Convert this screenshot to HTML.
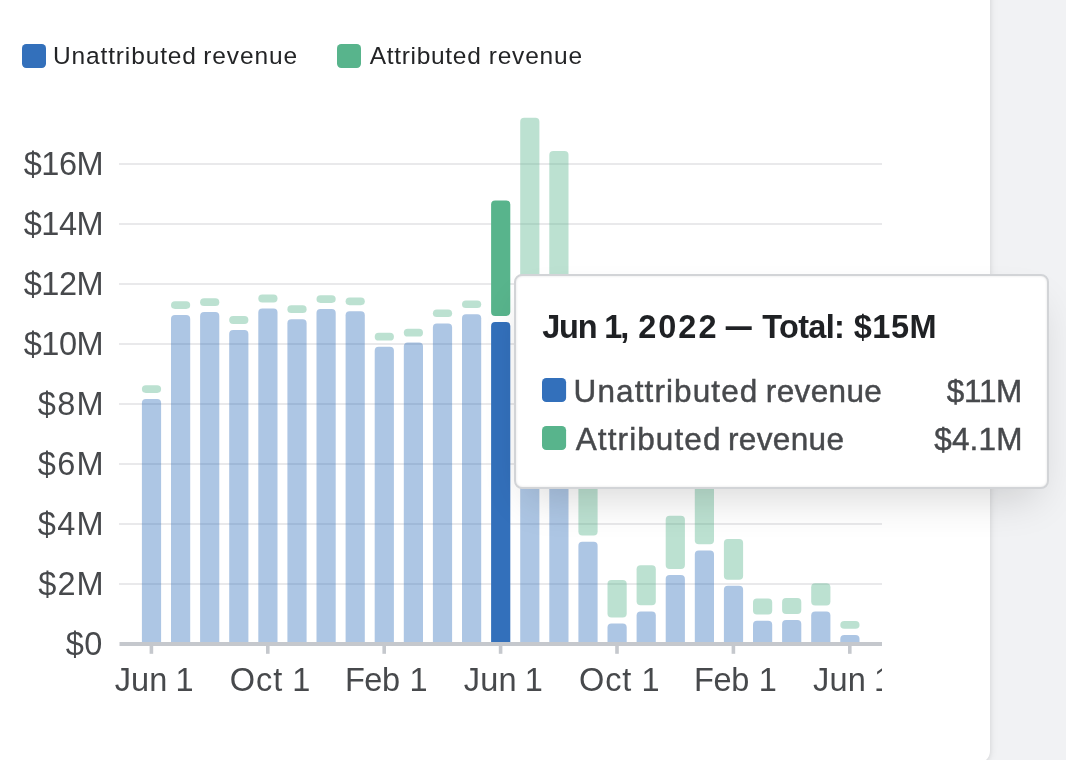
<!DOCTYPE html>
<html><head><meta charset="utf-8"><title>Revenue chart</title>
<style>
html,body{margin:0;padding:0;}
body{width:1066px;height:760px;overflow:hidden;background:#f1f2f4;position:relative;font-family:"Liberation Sans",sans-serif;}
.card{position:absolute;left:-40px;top:-40px;width:1030px;height:803px;background:#fff;border-radius:12px;box-shadow:0 0 8px rgba(0,0,0,.1),0 2px 4px rgba(0,0,0,.05);}
svg{position:absolute;left:0;top:0;font-family:"Liberation Sans",sans-serif;will-change:transform;}
.yl{font-size:32.5px;fill:#47494c;}
.xl{font-size:32.5px;fill:#47494c;}
.lg{font-size:24.5px;fill:#232426;}
.tip{position:absolute;box-sizing:border-box;left:514px;top:274px;width:535px;height:215px;background:#fff;border:2px solid #d2d4d7;border-radius:8px;box-shadow:inset 0 0 2.5px rgba(0,0,0,.12),0 20px 40px -12px rgba(0,0,0,.16);}
.tt{font-size:32.5px;font-weight:700;fill:#1f2124;}
.tr{font-size:31.5px;fill:#47494c;stroke:#47494c;stroke-width:0.45px;}
</style></head><body>
<div class="card"></div>
<svg class="chart" width="1066" height="760" viewBox="0 0 1066 760">
<rect x="119" y="583" width="763" height="2" fill="#e9e9eb"/>
<rect x="119" y="523" width="763" height="2" fill="#e9e9eb"/>
<rect x="119" y="463" width="763" height="2" fill="#e9e9eb"/>
<rect x="119" y="403" width="763" height="2" fill="#e9e9eb"/>
<rect x="119" y="343" width="763" height="2" fill="#e9e9eb"/>
<rect x="119" y="283" width="763" height="2" fill="#e9e9eb"/>
<rect x="119" y="223" width="763" height="2" fill="#e9e9eb"/>
<rect x="119" y="163" width="763" height="2" fill="#e9e9eb"/>
<g opacity="0.4"><path d="M141.90 644.00V403.00a4 4 0 0 1 4 -4h11.20a4 4 0 0 1 4 4V644.00z" fill="#3370bb"/><rect x="141.90" y="385.20" width="19.2" height="7.70" rx="4" ry="4" fill="#58b48c"/></g>
<g opacity="0.4"><path d="M171.00 644.00V319.10a4 4 0 0 1 4 -4h11.20a4 4 0 0 1 4 4V644.00z" fill="#3370bb"/><rect x="171.00" y="301.20" width="19.2" height="7.70" rx="4" ry="4" fill="#58b48c"/></g>
<g opacity="0.4"><path d="M200.10 644.00V316.00a4 4 0 0 1 4 -4h11.20a4 4 0 0 1 4 4V644.00z" fill="#3370bb"/><rect x="200.10" y="298.30" width="19.2" height="7.70" rx="4" ry="4" fill="#58b48c"/></g>
<g opacity="0.4"><path d="M229.20 644.00V334.00a4 4 0 0 1 4 -4h11.20a4 4 0 0 1 4 4V644.00z" fill="#3370bb"/><rect x="229.20" y="316.10" width="19.2" height="7.90" rx="4" ry="4" fill="#58b48c"/></g>
<g opacity="0.4"><path d="M258.30 644.00V312.40a4 4 0 0 1 4 -4h11.20a4 4 0 0 1 4 4V644.00z" fill="#3370bb"/><rect x="258.30" y="294.60" width="19.2" height="7.80" rx="4" ry="4" fill="#58b48c"/></g>
<g opacity="0.4"><path d="M287.40 644.00V323.20a4 4 0 0 1 4 -4h11.20a4 4 0 0 1 4 4V644.00z" fill="#3370bb"/><rect x="287.40" y="305.30" width="19.2" height="7.70" rx="4" ry="4" fill="#58b48c"/></g>
<g opacity="0.4"><path d="M316.50 644.00V313.10a4 4 0 0 1 4 -4h11.20a4 4 0 0 1 4 4V644.00z" fill="#3370bb"/><rect x="316.50" y="295.20" width="19.2" height="7.70" rx="4" ry="4" fill="#58b48c"/></g>
<g opacity="0.4"><path d="M345.60 644.00V315.30a4 4 0 0 1 4 -4h11.20a4 4 0 0 1 4 4V644.00z" fill="#3370bb"/><rect x="345.60" y="297.50" width="19.2" height="7.70" rx="4" ry="4" fill="#58b48c"/></g>
<g opacity="0.4"><path d="M374.70 644.00V350.80a4 4 0 0 1 4 -4h11.20a4 4 0 0 1 4 4V644.00z" fill="#3370bb"/><rect x="374.70" y="332.80" width="19.2" height="7.80" rx="4" ry="4" fill="#58b48c"/></g>
<g opacity="0.4"><path d="M403.80 644.00V346.60a4 4 0 0 1 4 -4h11.20a4 4 0 0 1 4 4V644.00z" fill="#3370bb"/><rect x="403.80" y="328.80" width="19.2" height="7.80" rx="4" ry="4" fill="#58b48c"/></g>
<g opacity="0.4"><path d="M432.90 644.00V327.50a4 4 0 0 1 4 -4h11.20a4 4 0 0 1 4 4V644.00z" fill="#3370bb"/><rect x="432.90" y="309.40" width="19.2" height="7.70" rx="4" ry="4" fill="#58b48c"/></g>
<g opacity="0.4"><path d="M462.00 644.00V318.20a4 4 0 0 1 4 -4h11.20a4 4 0 0 1 4 4V644.00z" fill="#3370bb"/><rect x="462.00" y="300.40" width="19.2" height="7.70" rx="4" ry="4" fill="#58b48c"/></g>
<g opacity="1"><path d="M491.10 644.00V326.00a4 4 0 0 1 4 -4h11.20a4 4 0 0 1 4 4V644.00z" fill="#3370bb"/><rect x="491.10" y="200.50" width="19.2" height="115.40" rx="4" ry="4" fill="#58b48c"/></g>
<g opacity="0.4"><path d="M520.20 644.00V344.00a4 4 0 0 1 4 -4h11.20a4 4 0 0 1 4 4V644.00z" fill="#3370bb"/><rect x="520.20" y="117.80" width="19.2" height="216.20" rx="4" ry="4" fill="#58b48c"/></g>
<g opacity="0.4"><path d="M549.30 644.00V354.00a4 4 0 0 1 4 -4h11.20a4 4 0 0 1 4 4V644.00z" fill="#3370bb"/><rect x="549.30" y="151.00" width="19.2" height="193.00" rx="4" ry="4" fill="#58b48c"/></g>
<g opacity="0.4"><path d="M578.40 644.00V545.75a4 4 0 0 1 4 -4h11.20a4 4 0 0 1 4 4V644.00z" fill="#3370bb"/><rect x="578.40" y="480.00" width="19.2" height="55.50" rx="4" ry="4" fill="#58b48c"/></g>
<g opacity="0.4"><path d="M607.50 644.00V627.50a4 4 0 0 1 4 -4h11.20a4 4 0 0 1 4 4V644.00z" fill="#3370bb"/><rect x="607.50" y="580.00" width="19.2" height="37.50" rx="4" ry="4" fill="#58b48c"/></g>
<g opacity="0.4"><path d="M636.60 644.00V615.50a4 4 0 0 1 4 -4h11.20a4 4 0 0 1 4 4V644.00z" fill="#3370bb"/><rect x="636.60" y="565.25" width="19.2" height="40.00" rx="4" ry="4" fill="#58b48c"/></g>
<g opacity="0.4"><path d="M665.70 644.00V579.00a4 4 0 0 1 4 -4h11.20a4 4 0 0 1 4 4V644.00z" fill="#3370bb"/><rect x="665.70" y="515.75" width="19.2" height="53.25" rx="4" ry="4" fill="#58b48c"/></g>
<g opacity="0.4"><path d="M694.80 644.00V554.50a4 4 0 0 1 4 -4h11.20a4 4 0 0 1 4 4V644.00z" fill="#3370bb"/><rect x="694.80" y="470.00" width="19.2" height="74.25" rx="4" ry="4" fill="#58b48c"/></g>
<g opacity="0.4"><path d="M723.90 644.00V589.80a4 4 0 0 1 4 -4h11.20a4 4 0 0 1 4 4V644.00z" fill="#3370bb"/><rect x="723.90" y="538.90" width="19.2" height="40.80" rx="4" ry="4" fill="#58b48c"/></g>
<g opacity="0.4"><path d="M753.00 644.00V624.80a4 4 0 0 1 4 -4h11.20a4 4 0 0 1 4 4V644.00z" fill="#3370bb"/><rect x="753.00" y="598.50" width="19.2" height="16.10" rx="4" ry="4" fill="#58b48c"/></g>
<g opacity="0.4"><path d="M782.10 644.00V624.00a4 4 0 0 1 4 -4h11.20a4 4 0 0 1 4 4V644.00z" fill="#3370bb"/><rect x="782.10" y="597.90" width="19.2" height="16.00" rx="4" ry="4" fill="#58b48c"/></g>
<g opacity="0.4"><path d="M811.20 644.00V615.60a4 4 0 0 1 4 -4h11.20a4 4 0 0 1 4 4V644.00z" fill="#3370bb"/><rect x="811.20" y="583.20" width="19.2" height="22.30" rx="4" ry="4" fill="#58b48c"/></g>
<g opacity="0.4"><path d="M840.30 644.00V639.00a4 4 0 0 1 4 -4h11.20a4 4 0 0 1 4 4V644.00z" fill="#3370bb"/><rect x="840.30" y="621.05" width="19.2" height="7.65" rx="4" ry="4" fill="#58b48c"/></g>
<rect x="119.5" y="642" width="762.5" height="4" fill="#c5c8cd"/>
<rect x="149.60" y="646" width="3.6" height="7.8" fill="#c5c8cd"/>
<rect x="266.00" y="646" width="3.6" height="7.8" fill="#c5c8cd"/>
<rect x="382.40" y="646" width="3.6" height="7.8" fill="#c5c8cd"/>
<rect x="498.80" y="646" width="3.6" height="7.8" fill="#c5c8cd"/>
<rect x="615.20" y="646" width="3.6" height="7.8" fill="#c5c8cd"/>
<rect x="731.60" y="646" width="3.6" height="7.8" fill="#c5c8cd"/>
<rect x="848.00" y="646" width="3.6" height="7.8" fill="#c5c8cd"/>
<rect x="22" y="44" width="24" height="24" rx="4.2" fill="#3370bb"/>
<rect x="337" y="44" width="24" height="24" rx="4.2" fill="#58b48c"/>
<text class="lg" x="53.01" y="64.30" style="letter-spacing:0.859px">Unattributed</text>
<text class="lg" x="203.25" y="64.30" style="letter-spacing:0.894px">revenue</text>
<text class="lg" x="369.63" y="64.30" style="letter-spacing:0.701px">Attributed</text>
<text class="lg" x="488.65" y="64.30" style="letter-spacing:0.827px">revenue</text>
<text class="yl" x="65.87" y="654.90" style="letter-spacing:0.365px">$0</text>
<text class="yl" x="38.37" y="594.90" style="letter-spacing:0.993px">$2M</text>
<text class="yl" x="37.77" y="534.90" style="letter-spacing:1.293px">$4M</text>
<text class="yl" x="37.77" y="474.90" style="letter-spacing:1.293px">$6M</text>
<text class="yl" x="37.77" y="414.90" style="letter-spacing:1.293px">$8M</text>
<text class="yl" x="23.67" y="354.90" style="letter-spacing:-0.438px">$10M</text>
<text class="yl" x="23.67" y="294.90" style="letter-spacing:-0.438px">$12M</text>
<text class="yl" x="23.67" y="234.90" style="letter-spacing:-0.438px">$14M</text>
<text class="yl" x="23.67" y="174.90" style="letter-spacing:-0.438px">$16M</text>
<clipPath id="cp"><rect x="0" y="650" width="882" height="110"/></clipPath><g clip-path="url(#cp)">
<text class="xl" x="114.63" y="690.90" style="letter-spacing:0.177px">Jun</text>
<text class="xl" x="229.77" y="690.90" style="letter-spacing:0.916px">Oct</text>
<text class="xl" x="344.88" y="690.90" style="letter-spacing:-0.405px">Feb</text>
<text class="xl" x="463.83" y="690.90" style="letter-spacing:0.177px">Jun</text>
<text class="xl" x="578.97" y="690.90" style="letter-spacing:0.916px">Oct</text>
<text class="xl" x="694.08" y="690.90" style="letter-spacing:-0.405px">Feb</text>
<text class="xl" x="813.03" y="690.90" style="letter-spacing:0.177px">Jun</text>
<text class="xl" x="175.48" y="690.90">1</text>
<text class="xl" x="292.18" y="690.90">1</text>
<text class="xl" x="409.58" y="690.90">1</text>
<text class="xl" x="524.68" y="690.90">1</text>
<text class="xl" x="641.38" y="690.90">1</text>
<text class="xl" x="758.78" y="690.90">1</text>
<text class="xl" x="873.88" y="690.90">1</text>
</g>
</svg>
<div class="tip"></div>
<svg class="tipsvg" width="1066" height="760" viewBox="0 0 1066 760">
<text class="tt" x="542.24" y="337.70" style="letter-spacing:-1.231px">Jun</text>
<text class="tt" x="604.34" y="337.70" style="letter-spacing:-2.08px">1,</text>
<text class="tt" x="638.35" y="337.70" style="letter-spacing:1.938px">2022</text>
<text class="tt" x="762.23" y="337.70" style="letter-spacing:-0.674px">Total:</text>
<text class="tt" x="853.63" y="337.70" style="letter-spacing:0.571px">$15M</text>
<text class="tr" x="573.55" y="402.00" style="letter-spacing:1.111px">Unattributed</text>
<text class="tr" x="765.87" y="402.00" style="letter-spacing:0.35px">revenue</text>
<text class="tr" x="575.72" y="450.20" style="letter-spacing:1.102px">Attributed</text>
<text class="tr" x="727.97" y="450.20" style="letter-spacing:0.35px">revenue</text>
<text class="tr" x="946.84" y="402.00" style="letter-spacing:-0.309px">$11M</text>
<text class="tr" x="934.24" y="450.20" style="letter-spacing:0.168px">$4.1M</text>
<rect x="725.7" y="326.3" width="26" height="3.7" fill="#1f2124"/>
<rect x="542" y="378" width="24.1" height="24" rx="4.3" fill="#3370bb"/>
<rect x="542" y="426" width="24.1" height="24" rx="4.3" fill="#58b48c"/>
</svg>
</body></html>
